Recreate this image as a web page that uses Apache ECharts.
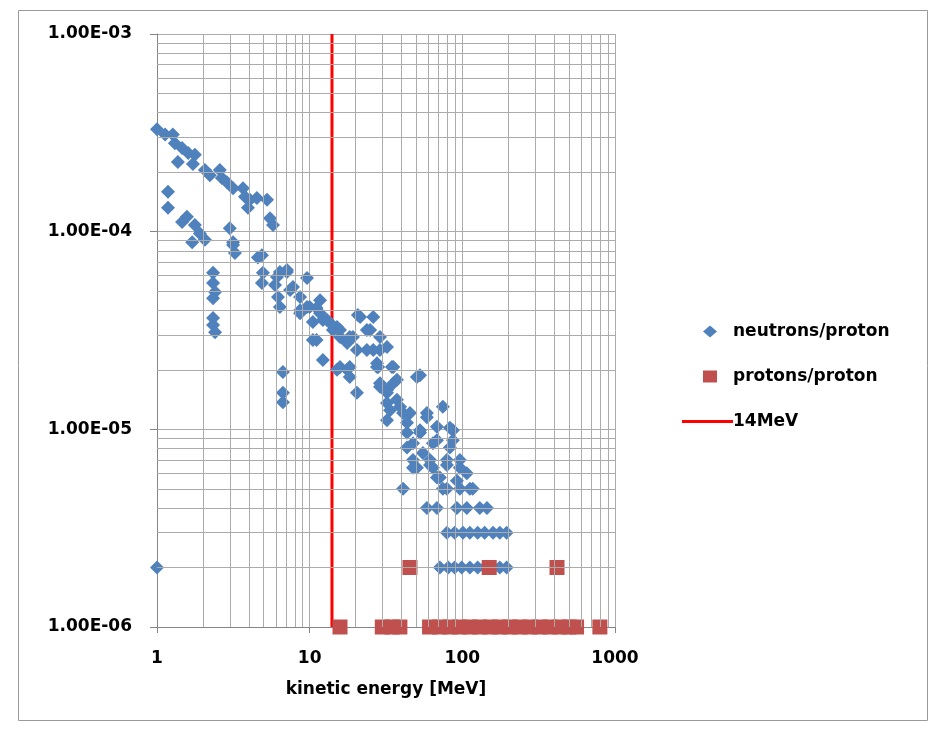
<!DOCTYPE html>
<html>
<head>
<meta charset="utf-8">
<script src="https://cdn.jsdelivr.net/npm/echarts@6/dist/echarts.min.js"></script>
<style>
html,body{margin:0;padding:0;background:#fff;}
#chart{width:934px;height:735px;}
</style>
</head>
<body>
<div id="chart"></div>
<script>
// ---- data ----
var seriesNames = ['neutrons/proton', 'protons/proton', '14MeV'];
var neutrons = [
  [1.0,3.3e-4],[1.13,3.1e-4],[1.27,3.1e-4],[1.31,2.8e-4],[1.46,2.65e-4],[1.37,2.25e-4],[1.6,2.5e-4],[1.77,2.45e-4],[1.72,2.2e-4],
  [2.06,2.05e-4],[2.22,1.93e-4],[2.58,2.05e-4],[2.66,1.87e-4],[2.87,1.78e-4],[3.15,1.66e-4],[3.66,1.66e-4],[3.77,1.5e-4],
  [4.06,1.45e-4],[3.94,1.32e-4],[4.51,1.48e-4],[5.26,1.45e-4],[5.5,1.17e-4],[5.75,1.08e-4],
  [1.18,1.59e-4],[1.18,1.32e-4],[1.57,1.19e-4],[1.46,1.12e-4],[1.77,1.08e-4],[1.91,9.8e-5],[1.7,8.85e-5],[2.06,9.1e-5],
  [3.0,1.04e-4],[3.15,8.85e-5],[3.24,7.8e-5],[4.87,7.6e-5],[4.94,6.2e-5],[4.87,5.5e-5],[6.11,5.9e-5],[6.2,4.67e-5],[6.38,4.16e-5],
  [2.33,6.2e-5],[2.33,5.5e-5],[2.4,4.95e-5],[2.33,4.6e-5],[2.33,3.66e-5],[2.33,3.37e-5],[2.4,3.1e-5],
  [3.15,8.55e-5],[4.58,7.4e-5],[6.38,6.25e-5],[7.1,6.25e-5],[5.93,5.37e-5],[9.61,5.83e-5],[7.44,5.07e-5],[8.65,4.67e-5],
  [8.65,4.0e-5],[10.0,4.16e-5],[11.7,4.5e-5],[11.7,3.87e-5],[13.0,3.57e-5],[10.5,3.49e-5],[11.1,2.83e-5],[12.2,2.24e-5],
  [14.2,3.18e-5],[15.8,2.93e-5],[17.6,2.73e-5],[15.1,2.0e-5],[17.6,2.0e-5],[20.4,2.52e-5],[21.4,3.7e-5],[26.1,3.7e-5],
  [23.7,3.18e-5],[28.9,2.93e-5],[26.1,2.52e-5],[27.6,2.16e-5],[34.6,2.07e-5],[28.9,1.71e-5],[20.4,1.53e-5],[32.1,1.58e-5],
  [33.6,1.25e-5],[6.68,1.95e-5],[6.68,1.53e-5],[6.68,1.37e-5],
  [7.1,6.4e-5],[7.78,5.25e-5],[9.61,4.16e-5],[11.1,4.11e-5],[8.65,3.87e-5],[12.2,3.57e-5],[13.6,3.45e-5],[15.1,3.29e-5],
  [10.5,2.83e-5],[18.3,2.93e-5],[15.8,2.07e-5],[18.3,1.84e-5],[24.9,3.18e-5],[32.1,2.61e-5],[27.6,2.07e-5],[37.3,1.78e-5],
  [32.1,1.53e-5],[37.3,1.41e-5],[40.9,1.21e-5],[50.4,1.84e-5],
  [20.7,3.79e-5],[15.8,3.18e-5],[19.2,2.93e-5],[28.9,2.52e-5],[23.7,2.52e-5],[18.3,2.07e-5],[28.1,2.07e-5],[28.9,1.64e-5],
  [39.1,1.3e-5],[32.1,1.11e-5],[45.4,1.21e-5],[74.6,1.3e-5],[58.6,1.15e-5],[86.7,9.9e-6],[43.4,9.6e-6],[52.8,9.6e-6],
  [68.2,8.8e-6],[43.4,8.1e-6],[55.2,7.6e-6],[82.9,8.1e-6],[50.4,6.4e-6],[64.2,6.4e-6],[79.3,7.0e-6],[107,6.0e-6],
  [71.3,5.7e-6],[92.1,5.5e-6],[40.9,5.0e-6],[79.3,5.0e-6],[112,5.0e-6],
  [35.3,2.07e-5],[52.8,1.88e-5],[35.3,1.71e-5],[32.1,1.36e-5],[58.6,1.21e-5],[82.9,1.02e-5],[43.4,1.08e-5],[52.8,9.9e-6],
  [68.2,1.03e-5],[47.5,8.5e-6],[64.2,8.5e-6],[86.7,8.8e-6],[47.5,7.0e-6],[61.4,7.0e-6],[96.4,7.0e-6],
  [47.5,6.4e-6],[61.4,6.6e-6],[79.3,6.6e-6],[96.4,6.4e-6],[68.2,5.7e-6],[74.6,5e-6],[96.4,5e-6],[117,5e-6],
  [58.6,4e-6],[68.2,4e-6],[92.1,4e-6],[107,4e-6],[130,4e-6],[145,4e-6],
  [79.3,3e-6],[89,3e-6],[101,3e-6],[112,3e-6],[126,3e-6],[140,3e-6],[159,3e-6],[176,3e-6],[195,3e-6],
  [1,2e-6],[71.3,2e-6],[80.9,2e-6],[89,2e-6],[99,2e-6],[112,2e-6],[126,2e-6],[140,2e-6],[159,2e-6],[176,2e-6],[195,2e-6]
];
var protons = [
  [45.4,2e-6],[150,2e-6],[417,2e-6],
  [15.8,1e-6],[29.9,1e-6],[34.6,1e-6],[39,1e-6],[61,1e-6],[71,1e-6],[83,1e-6],[96,1e-6],[112,1e-6],[130,1e-6],
  [152,1e-6],[176,1e-6],[205,1e-6],[238,1e-6],[277,1e-6],[322,1e-6],[375,1e-6],[436,1e-6],[500,1e-6],[560,1e-6],[796,1e-6]
];
var markerEnergy = 14;
var markerYRange = [1e-6, 1e-3];
var xRange = [1, 1000];
var yRange = [1e-6, 1e-3];
var xTickLabels = {1:'1', 10:'10', 100:'100', 1000:'1000'};
var yTickLabels = ['1.00E-06','1.00E-05','1.00E-04','1.00E-03'];
var xAxisTitle = 'kinetic energy [MeV]';
var mantissas = [2,3,4,5,6,7,8,9];
var xDecades = [1,10,100];
var yDecades = [1e-6,1e-5,1e-4];

// ---- minor gridlines (axis decoration, from tick values) ----
var minorLines = [];
xDecades.forEach(function(d){ mantissas.forEach(function(m){
  minorLines.push([{coord:[m*d, yRange[0]]}, {coord:[m*d, yRange[1]]}]);
}); });
yDecades.forEach(function(d){ mantissas.forEach(function(m){
  minorLines.push([{coord:[xRange[0], m*d]}, {coord:[xRange[1], m*d]}]);
}); });

var FONT = 'DejaVu Sans';
var gridColor = '#ababab';
var legendText = {fontFamily: FONT, fontWeight: 'bold', fontSize: 17, color: '#000'};
var chart = echarts.init(document.getElementById('chart'), null, {renderer:'canvas'});
chart.setOption({
  animation: false,
  backgroundColor: '#ffffff',
  graphic: [{
    type: 'rect', left: 16, top: 8, silent: true, z: -10,
    shape: {width: 909, height: 710},
    style: {fill: 'none', stroke: '#9a9a9a', lineWidth: 1}
  }],
  grid: {left: 157, right: 319, top: 34, bottom: 108, containLabel: false},
  legend: [{
    orient: 'vertical', left: 698, top: 318, itemGap: 28,
    itemWidth: 14, itemHeight: 12,
    textStyle: Object.assign({padding: [0,0,0,11]}, legendText),
    data: [
      {name: seriesNames[0], icon: 'diamond'},
      {name: seriesNames[1], icon: 'rect'}
    ]
  }, {
    orient: 'vertical', left: 677, top: 408,
    itemWidth: 51, itemHeight: 3,
    textStyle: Object.assign({padding: [0,0,0,-5]}, legendText),
    data: [{name: seriesNames[2], icon: 'rect'}]
  }],
  xAxis: {
    type: 'log', logBase: 10, min: xRange[0], max: xRange[1],
    name: xAxisTitle, nameLocation: 'middle', nameGap: 54,
    nameTextStyle: {fontFamily: FONT, fontWeight: 'bold', fontSize: 17, color: '#000'},
    axisLine: {lineStyle: {color: '#868686', width: 1}},
    axisTick: {show: true, length: 6, inside: false, lineStyle: {color: '#868686'}},
    axisLabel: {
      margin: 23, fontFamily: FONT, fontWeight: 'bold', fontSize: 17, color: '#000',
      formatter: function(v){ var k = Math.round(v); return xTickLabels[k] !== undefined ? xTickLabels[k] : ''; }
    },
    splitLine: {show: true, lineStyle: {color: gridColor, width: 1}}
  },
  yAxis: {
    type: 'log', logBase: 10, min: yRange[0], max: yRange[1],
    axisLine: {show: true, lineStyle: {color: '#868686', width: 1}},
    axisTick: {show: true, length: 7, inside: false, lineStyle: {color: '#868686'}},
    axisLabel: {
      margin: 25, fontFamily: FONT, fontWeight: 'bold', fontSize: 17, color: '#000',
      formatter: function(v){ var e = Math.round(Math.log10(v)) + 6; return yTickLabels[e] || ''; }
    },
    splitLine: {show: true, lineStyle: {color: gridColor, width: 1}}
  },
  series: [
    {
      name: 'minor-grid', type: 'scatter', data: [], z: 1, silent: true,
      markLine: {
        silent: true, symbol: ['none','none'], animation: false,
        label: {show: false},
        lineStyle: {color: gridColor, width: 1, type: 'solid'},
        emphasis: {disabled: true},
        data: minorLines
      }
    },
    {
      name: seriesNames[2], type: 'line', z: 2,
      data: [[markerEnergy, markerYRange[0]], [markerEnergy, markerYRange[1]]],
      symbol: 'none', lineStyle: {color: '#ff0000', width: 3}, itemStyle: {color: '#ff0000'}
    },
    {
      name: seriesNames[0], type: 'scatter', z: 3,
      data: neutrons, symbol: 'diamond', symbolSize: 14,
      itemStyle: {color: '#4f81bd', opacity: 1}
    },
    {
      name: seriesNames[1], type: 'scatter', z: 4,
      data: protons, symbol: 'rect', symbolSize: 15,
      itemStyle: {color: '#c0504d', opacity: 1}
    }
  ]
});
</script>
</body>
</html>
